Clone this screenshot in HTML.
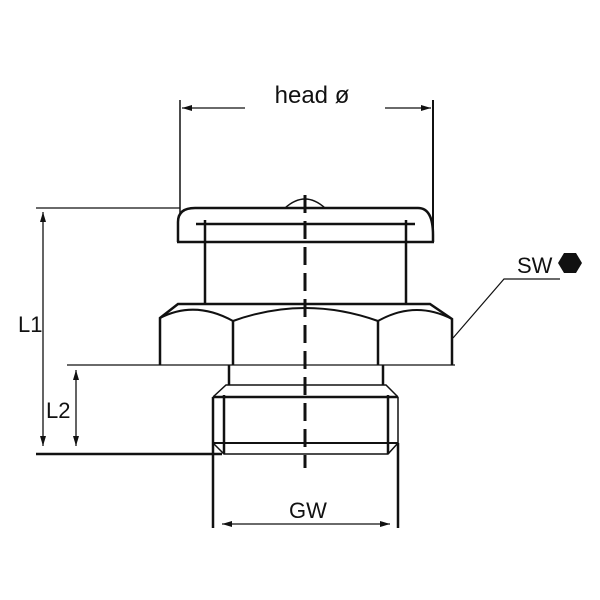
<!DOCTYPE html>
<html><head><style>
body{margin:0;background:#fff}
svg{display:block}
text{font-family:"Liberation Sans",sans-serif;fill:#111}
</style></head><body>
<svg width="600" height="600" viewBox="0 0 600 600" xmlns="http://www.w3.org/2000/svg">
<defs>
<marker id="a" viewBox="0 0 10 6" refX="10" refY="3" markerWidth="10" markerHeight="6" orient="auto-start-reverse" markerUnits="userSpaceOnUse">
<path d="M0,0 L10,3 L0,6 z" fill="#111"/></marker>
</defs>
<g stroke="#111" fill="none">
<line x1="36" y1="208" x2="180" y2="208" stroke-width="1.3"/>
<line x1="67" y1="365" x2="455" y2="365" stroke-width="1.3"/>
<line x1="36" y1="454" x2="222" y2="454" stroke-width="2.5"/>
<line x1="180" y1="100" x2="180" y2="215" stroke-width="1.5"/>
<line x1="433" y1="100" x2="433" y2="240" stroke-width="2"/>
<line x1="182" y1="108" x2="245" y2="108" stroke-width="1.3" marker-start="url(#a)"/>
<line x1="385" y1="108" x2="431" y2="108" stroke-width="1.3" marker-end="url(#a)"/>
<line x1="43" y1="212" x2="43" y2="446" stroke-width="1.3" marker-start="url(#a)" marker-end="url(#a)"/>
<line x1="76" y1="370" x2="76" y2="446" stroke-width="1.3" marker-start="url(#a)" marker-end="url(#a)"/>
<line x1="213" y1="443" x2="213" y2="528" stroke-width="2.5"/>
<line x1="398" y1="443" x2="398" y2="528" stroke-width="2.5"/>
<line x1="222" y1="524" x2="390" y2="524" stroke-width="1.3" marker-start="url(#a)" marker-end="url(#a)"/>
<!-- head -->
<path d="M178,242 L178,222 Q178,208 195,208 L418,208 Q433,208 433,235 L433,242" stroke-width="2.5"/>
<line x1="177" y1="242" x2="434" y2="242" stroke-width="2.5"/>
<path d="M285,208 Q305,190 325,208" stroke-width="1.5"/>
<line x1="196" y1="224" x2="415" y2="224" stroke-width="2.5"/>
<line x1="205" y1="220" x2="205" y2="304" stroke-width="2.5"/>
<line x1="406" y1="220" x2="406" y2="304" stroke-width="2.5"/>
<!-- hex -->
<path d="M160,365 L160,318 L178,304 L430,304 L452,319 L452,365" stroke-width="2.5"/>
<path d="M160,318 Q195,300 233,321 Q305,295 378,321 Q415,300 452,319" stroke-width="2"/>
<line x1="233" y1="321" x2="233" y2="365" stroke-width="2.5"/>
<line x1="378" y1="321" x2="378" y2="365" stroke-width="2.5"/>
<line x1="229" y1="365" x2="229" y2="385" stroke-width="2.5"/>
<line x1="383" y1="365" x2="383" y2="385" stroke-width="2.5"/>
<!-- thread -->
<path d="M213,397 L226,385 L386,385 L398,397 M213,443 L224,454 L388,454 L398,443" stroke-width="1.5"/>
<line x1="213" y1="397" x2="398" y2="397" stroke-width="2.5"/>
<line x1="213" y1="443" x2="398" y2="443" stroke-width="2"/>
<line x1="213" y1="397" x2="213" y2="443" stroke-width="2.5"/>
<line x1="398" y1="397" x2="398" y2="443" stroke-width="1.5"/>
<line x1="224" y1="395" x2="224" y2="454" stroke-width="2.5"/>
<line x1="388" y1="395" x2="388" y2="454" stroke-width="2.5"/>
<line x1="305" y1="195" x2="305" y2="468" stroke-width="3" stroke-dasharray="18,8"/>
<polyline points="453,338 504,279 560,279" stroke-width="1.2"/>
</g>
<polygon points="558,263 564,253 576,253 582,263 576,273 564,273" fill="#111"/>
<text x="312" y="103" font-size="24" text-anchor="middle">head ø</text>
<text x="517" y="273" font-size="22">SW</text>
<text x="18" y="332" font-size="22">L1</text>
<text x="46" y="418" font-size="22">L2</text>
<text x="308" y="518" font-size="22" text-anchor="middle">GW</text>
</svg>
</body></html>
